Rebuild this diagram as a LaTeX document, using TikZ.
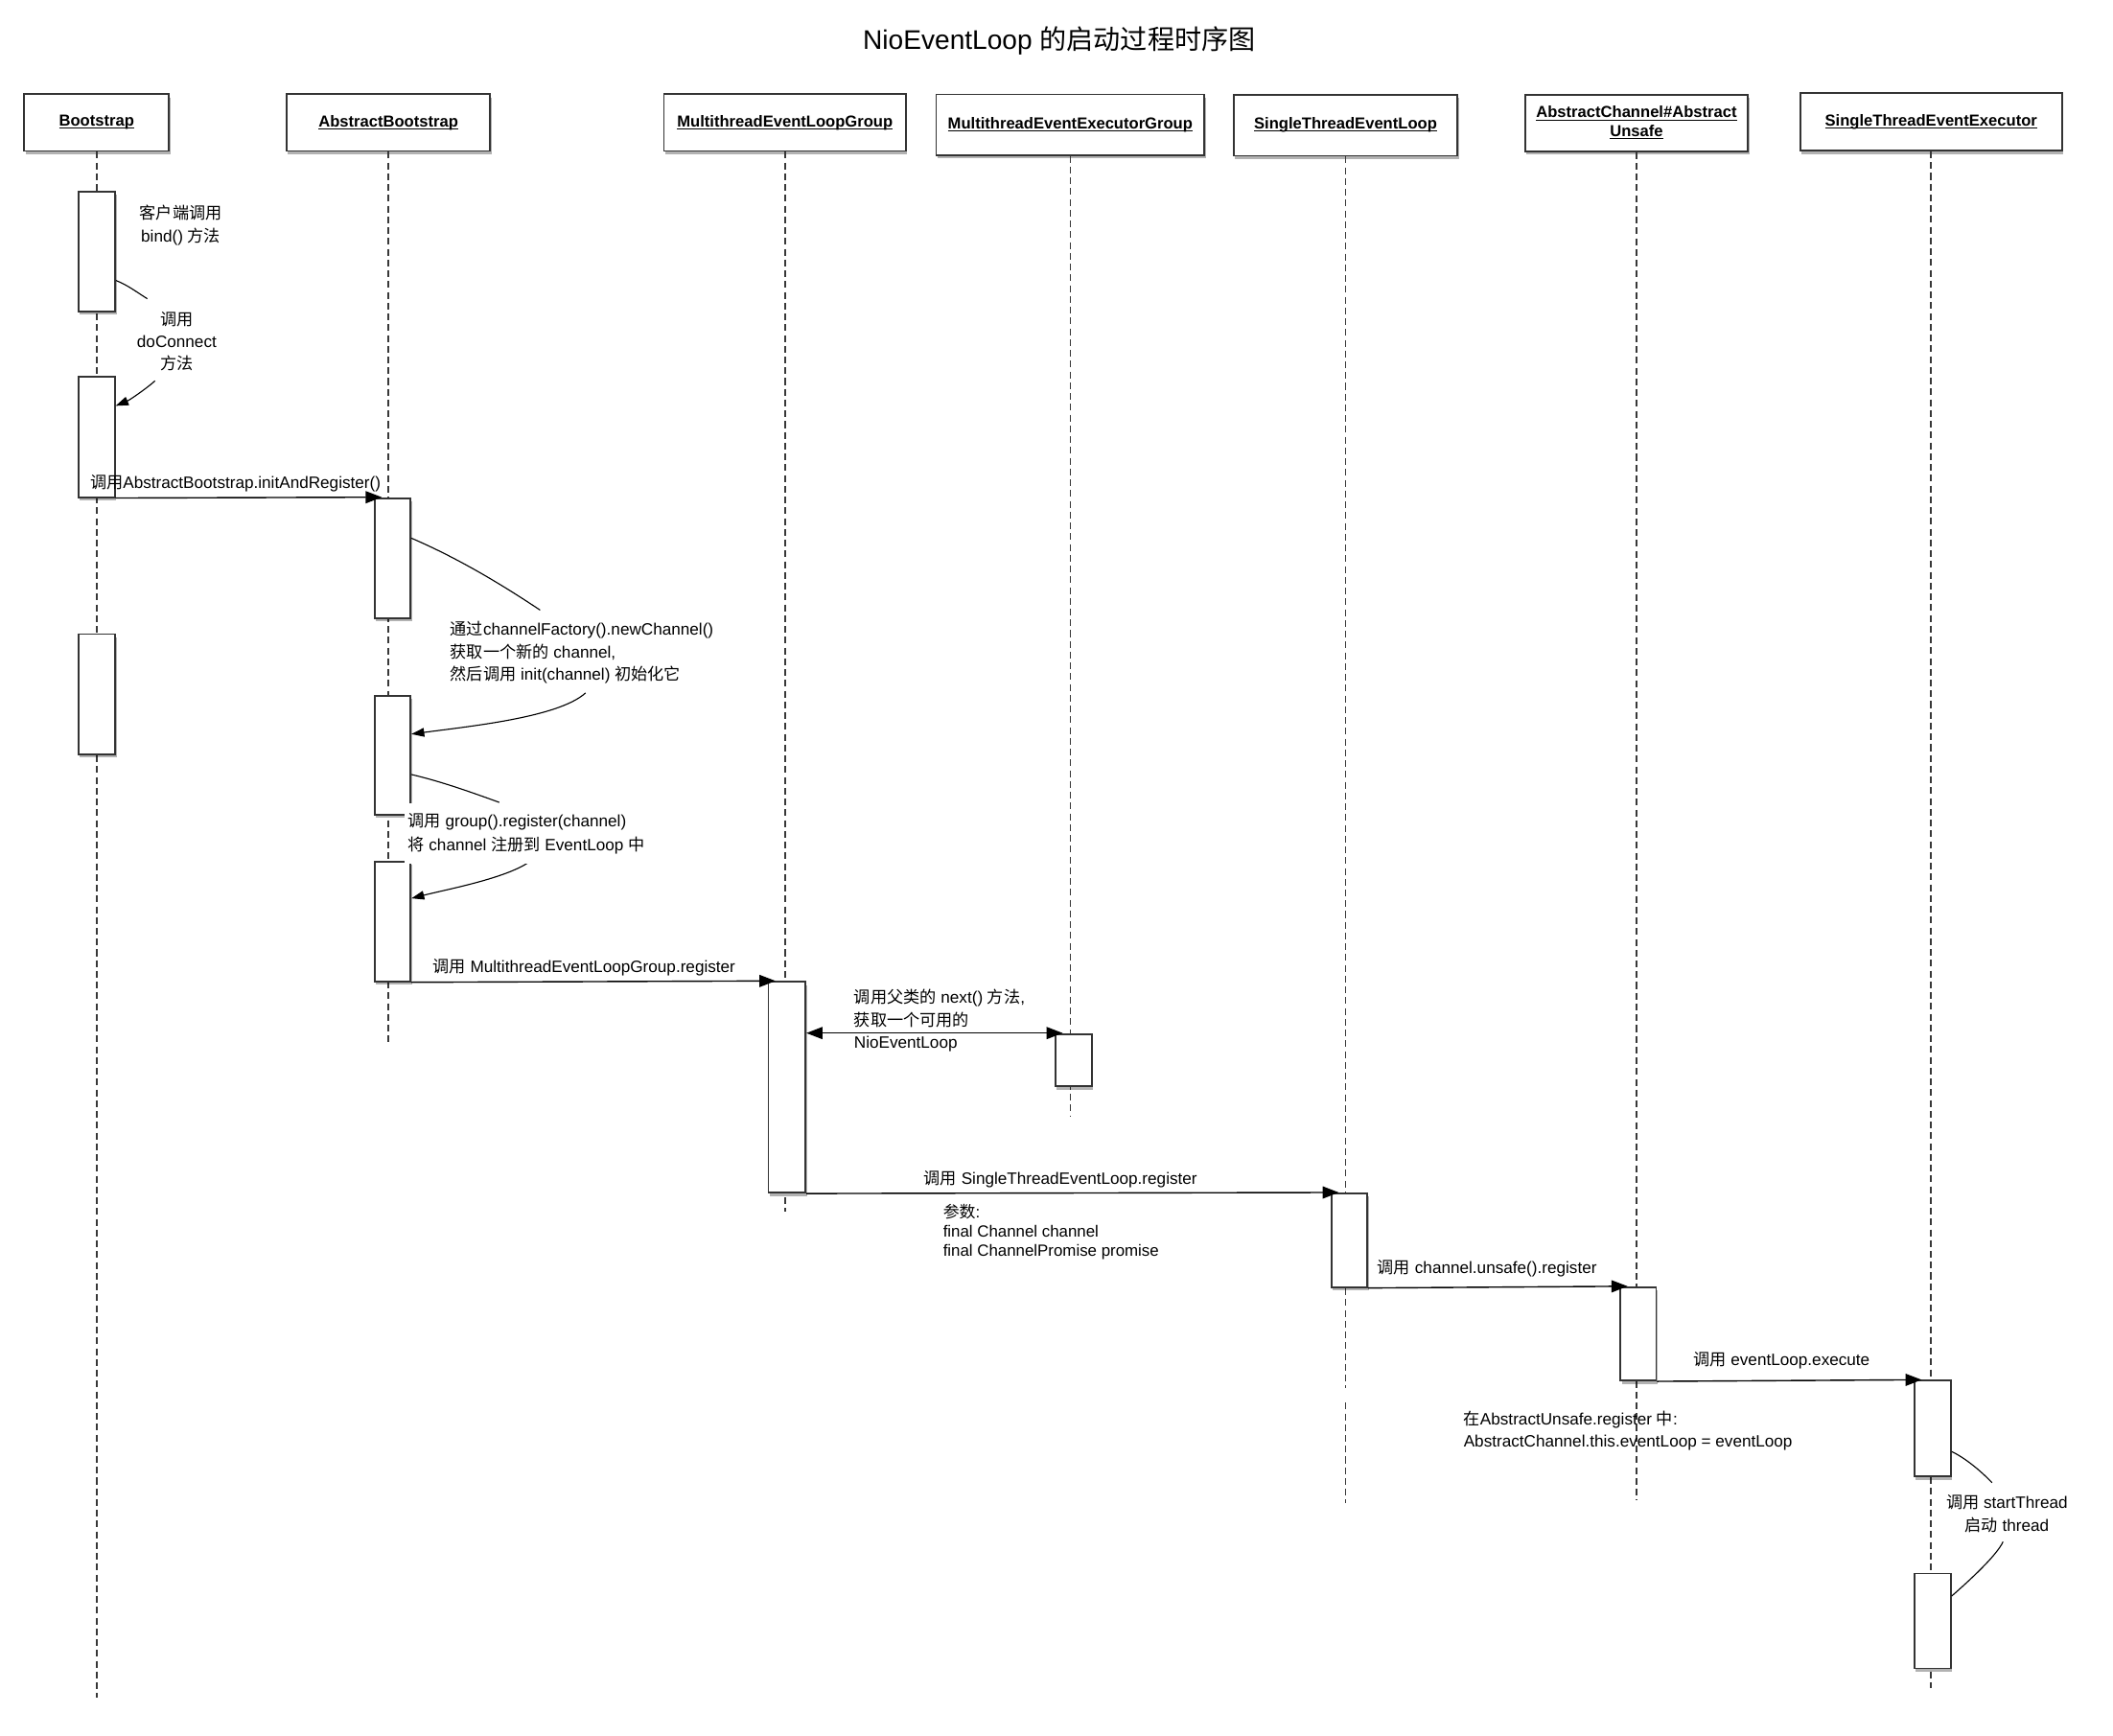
\documentclass[tikz,border=0pt]{standalone}
\usepackage{fontspec}
\setmainfont{Liberation Sans}
\newfontfamily\cjk{Noto Sans CJK SC}
\newcommand\zh[1]{{\cjk #1}}
\newsavebox\hulbox
\newcommand\hul[1]{\sbox\hulbox{#1}\rlap{\rule[-1.8pt]{\wd\hulbox}{0.7pt}}\usebox\hulbox}
\usetikzlibrary{arrows.meta,shadows,calc}
\definecolor{boxc}{HTML}{333333}
\definecolor{linec}{HTML}{383838}
\begin{document}
\begin{tikzpicture}[x=1pt,y=-1pt,
  hdr/.style={draw=boxc, line width=1.3pt, fill=white, inner sep=0pt, align=center,
    font=\fontsize{11.8}{14.2}\selectfont\bfseries,
    drop shadow={shadow xshift=1pt, shadow yshift=-2.5pt, fill=black, opacity=0.3}},
  act/.style={draw=boxc, line width=1.3pt, fill=white, inner sep=0pt, anchor=north west,
    minimum width=27pt,
    drop shadow={shadow xshift=1pt, shadow yshift=-2.5pt, fill=black, opacity=0.3}},
  lifeline/.style={draw=linec, line width=1.2pt, dash pattern=on 5pt off 3pt},
  msg/.style={draw=black, line width=1pt, -{Triangle[length=12pt,width=9pt]}},
  curve/.style={draw=black, line width=0.8pt},
  carrow/.style={curve, -{Triangle[length=9.5pt,width=6.5pt]}},
  lbl/.style={inner sep=0pt, font=\fontsize{12.2}{17}\selectfont, align=left, anchor=west},
]
\fill[white] (0,0) rectangle (1568,1288);
\useasboundingbox (0,0) rectangle (1568,1288);

% title
\node[inner sep=0pt, font=\fontsize{20}{24}\selectfont] (T) at (786,30) {NioEventLoop \zh{的启动过程时序图}};

% headers
\node[hdr, minimum width=107.5pt, minimum height=42pt] (H1) at (71.7,91) {\hul{Bootstrap}};
\node[hdr, minimum width=151.2pt, minimum height=42pt] (H2) at (288.2,91) {\hul{AbstractBootstrap}};
\node[hdr, minimum width=179.7pt, minimum height=42pt] (H3) at (582.5,91) {\hul{MultithreadEventLoopGroup}};
\node[hdr, minimum width=199pt, minimum height=45pt] (H4) at (794.2,92.6) {\hul{MultithreadEventExecutorGroup}};
\node[hdr, minimum width=166.3pt, minimum height=45.3pt] (H5) at (998.5,92.9) {\hul{SingleThreadEventLoop}};
\node[hdr, minimum width=165.3pt, minimum height=42pt] (H6) at (1214.4,91.2) {\hul{AbstractChannel\#Abstract}\\\hul{Unsafe}};
\node[hdr, minimum width=194pt, minimum height=42.5pt] (H7) at (1433,90.5) {\hul{SingleThreadEventExecutor}};

% lifelines
\draw[lifeline] (H1.south) -- (H1.south |- 0,1259.8);
\draw[lifeline] (H2.south) -- (H2.south |- 0,773);
\draw[lifeline] (H3.south) -- (H3.south |- 0,899.3);
\draw[lifeline] (H4.south) -- (H4.south |- 0,828.8);
\draw[lifeline] (H5.south) -- (H5.south |- 0,1030.4);
\draw[lifeline] (H5.south |- 0,1041) -- (H5.south |- 0,1115.4);
\draw[lifeline] (H6.south) -- (H6.south |- 0,1113);
\draw[lifeline] (H7.south) -- (H7.south |- 0,1253);

% activation boxes
\node[act, minimum width=27.3pt, minimum height=88.9pt] (A1) at (57.5,141.6) {};
\node[act, minimum height=89.2pt] (A2) at (57.5,279.1) {};
\node[act, minimum width=27.3pt, minimum height=89pt] (A3) at (57.5,470) {};
\node[act, minimum width=26.7pt, minimum height=89pt] (B1) at (277.3,369) {};
\node[act, minimum width=26.7pt, minimum height=88.2pt] (B2) at (277.3,515.8) {};
\node[act, minimum width=26.7pt, minimum height=88.9pt] (B3) at (277.3,638.8) {};
\node[act, minimum width=27.6pt, minimum height=156.5pt] (C1) at (569.5,728) {};
\node[act, minimum height=38.7pt] (D1) at (782.6,766.7) {};
\node[act, minimum width=26.5pt, minimum height=69.6pt] (E1) at (987.5,885) {};
\node[act, minimum width=26.5pt, minimum height=69.3pt] (F1) at (1201.8,954.6) {};
\node[act, minimum height=71pt] (G1) at (1420,1024) {};
\node[act, minimum height=70.4pt] (G2) at (1420,1167.2) {};

% messages
\draw[msg] (A2.south east) -- ([xshift=6pt]B1.north west);
\draw[msg] (B3.south east) -- ([xshift=6pt]C1.north west);
\draw[msg] (C1.south east) -- ([xshift=6pt]E1.north west);
\draw[msg] (E1.south east) -- ([xshift=6pt]F1.north west);
\draw[msg] (F1.south east) -- ([xshift=6pt]G1.north west);
\draw[draw=black, line width=1pt, {Triangle[length=12pt,width=9pt]}-{Triangle[length=12pt,width=9pt]}]
  (C1.east |- D1.north) -- ([xshift=6pt]D1.north west);

% self-call curves
\coordinate (k1) at (109.3,221.7);
\coordinate (k2) at (115,282.7);
\coordinate (k3) at (400.8,452.8);
\coordinate (k4) at (434.5,514.3);
\coordinate (k5) at (370.5,595.5);
\coordinate (k6) at (392.3,640);
\coordinate (k7) at (1478.2,1100.4);
\coordinate (k8) at (1486.4,1144.2);
\draw[curve] ($(A1.north east)+(0,66.6)$) .. controls +(8,3) and +(-8,-5) .. (k1);
\draw[carrow] (k2) .. controls +(-7,6.2) and +(10,-4.1) .. ($(A2.north east)+(0,22.1)$);
\draw[curve] ($(B1.north east)+(0,30.4)$) .. controls +(32,13.8) and +(-32,-21.4) .. (k3);
\draw[carrow] (k4) .. controls +(-20,18) and +(45,-6) .. ($(B2.north east)+(0,29)$);
\draw[curve] ($(B2.north east)+(0,59)$) .. controls +(22,5.2) and +(-22,-8) .. (k5);
\draw[carrow] (k6) .. controls +(-18,12) and +(28,-7) .. ($(B3.north east)+(0,27.9)$);
\draw[curve] ($(G1.north east)+(0,53.3)$) .. controls +(10,4.75) and +(-8,-8.5) .. (k7);
\draw[curve] (k8) .. controls +(-5,10.7) and +(12,-10.5) .. ($(G2.north east)+(0,17.3)$);

% labels
\node[lbl, align=center, anchor=center] (L1) at (134.2,166.9) {\zh{客户端调用}\\bind() \zh{方法}};
\node[lbl, align=center, anchor=center, font=\fontsize{12.2}{16.6}\selectfont] (L2) at (131.2,253.3) {\zh{调用}\\doConnect\\\zh{方法}};
\node[lbl] (L3) at (66.7,358.6) {\zh{调用}AbstractBootstrap.initAndRegister()};
\node[lbl, font=\fontsize{12.2}{16.6}\selectfont] (L4) at (334,484.4) {\zh{通过}channelFactory().newChannel()\\\zh{获取一个新的} channel,\\\zh{然后调用} init(channel) \zh{初始化它}};
\node[lbl, fill=white, inner xsep=2.5pt, inner ysep=7pt, font=\fontsize{12.2}{17.8}\selectfont] (L5) at (300,618.5) {\zh{调用} group().register(channel)\\\zh{将} channel \zh{注册到} EventLoop \zh{中}};
\node[lbl] (L6) at (321,718.3) {\zh{调用} MultithreadEventLoopGroup.register};
\node[lbl, font=\fontsize{12.2}{16.9}\selectfont] (L7) at (633.6,757.5) {\zh{调用父类的} next() \zh{方法},\\\zh{获取一个可用的}\\NioEventLoop};
\node[lbl] (L8) at (685.4,875) {\zh{调用} SingleThreadEventLoop.register};
\node[lbl, font=\fontsize{12}{14.2}\selectfont] (L9) at (699.7,914.2) {\zh{参数}:\\final Channel channel\\final ChannelPromise promise};
\node[lbl] (L10) at (1022,941.5) {\zh{调用} channel.unsafe().register};
\node[lbl] (L11) at (1256.4,1009.9) {\zh{调用} eventLoop.execute};
\node[lbl, font=\fontsize{12.2}{16.7}\selectfont] (L12) at (1086,1061.9) {\zh{在}AbstractUnsafe.register \zh{中}:\\AbstractChannel.this.eventLoop = eventLoop};
\node[lbl, align=center, anchor=center] (L13) at (1489.3,1123.2) {\zh{调用} startThread\\\zh{启动} thread};
\end{tikzpicture}
\end{document}
